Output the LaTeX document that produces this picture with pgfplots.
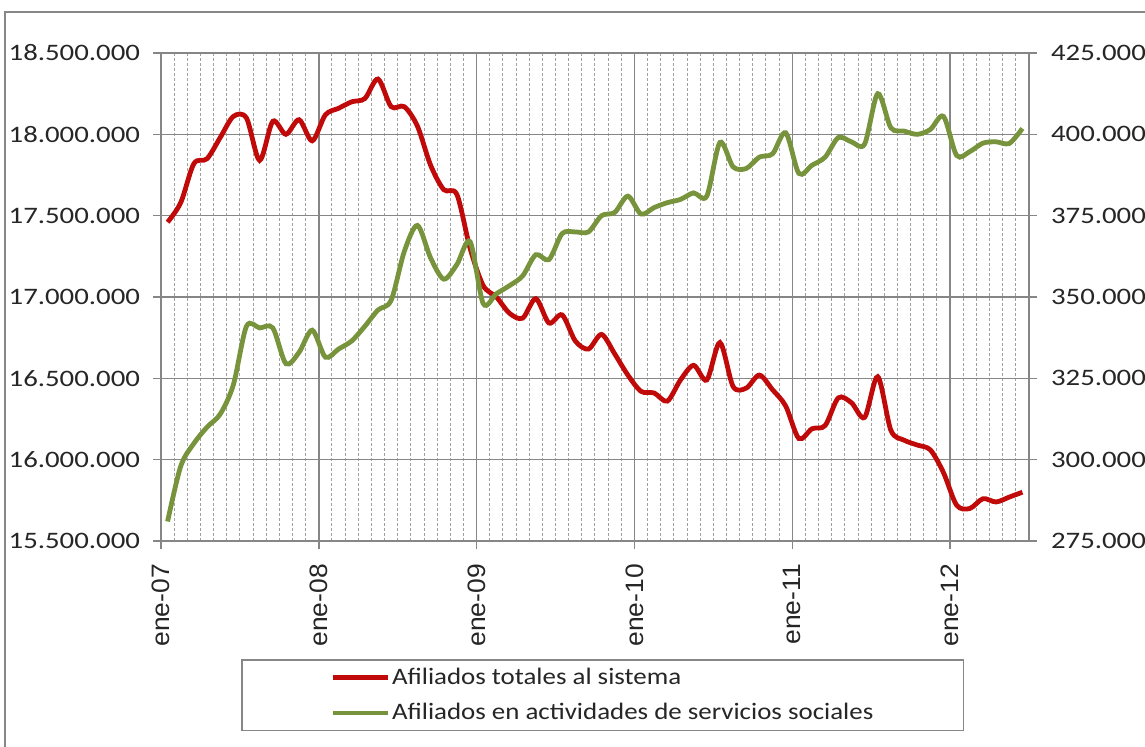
\documentclass[border=0pt]{standalone}
\usepackage{fontspec}
\setmainfont{Carlito}[FakeStretch=1.14]
\newfontfamily\numfont{Carlito}[FakeStretch=1.22]
\newfontfamily\arialf{Liberation Sans}[FakeStretch=1.05]
\usepackage{pgfplots}
\usepackage{pgfplotstable}
\pgfplotsset{compat=1.18}
\definecolor{serred}{RGB}{192,10,10}
\definecolor{sergreen}{RGB}{119,147,60}
\definecolor{gridgray}{RGB}{134,134,134}
\definecolor{mingray}{RGB}{160,160,160}
\definecolor{framegray}{RGB}{135,135,135}

\pgfplotstableread{
x y
0.5 17460000
1.5 17580000
2.5 17820000
3.5 17850000
4.5 17980000
5.5 18110000
6.5 18100000
7.5 17840000
8.5 18080000
9.5 18000000
10.5 18090000
11.5 17960000
12.5 18120000
13.5 18160000
14.5 18200000
15.5 18220000
16.5 18340000
17.5 18170000
18.5 18170000
19.5 18050000
20.5 17810000
21.5 17660000
22.5 17630000
23.5 17300000
24.5 17070000
25.5 17000000
26.5 16900000
27.5 16870000
28.5 16990000
29.5 16840000
30.5 16890000
31.5 16730000
32.5 16680000
33.5 16770000
34.5 16650000
35.5 16520000
36.5 16420000
37.5 16410000
38.5 16360000
39.5 16490000
40.5 16580000
41.5 16490000
42.5 16720000
43.5 16450000
44.5 16440000
45.5 16520000
46.5 16430000
47.5 16330000
48.5 16130000
49.5 16190000
50.5 16210000
51.5 16380000
52.5 16350000
53.5 16260000
54.5 16510000
55.5 16180000
56.5 16120000
57.5 16090000
58.5 16060000
59.5 15920000
60.5 15720000
61.5 15700000
62.5 15760000
63.5 15740000
64.5 15770000
65.5 15800000
}\totales

\pgfplotstableread{
x y
0.5 281000
1.5 298000
2.5 305000
3.5 310000
4.5 314000
5.5 323000
6.5 341000
7.5 340500
8.5 340500
9.5 329500
10.5 333000
11.5 339800
12.5 331500
13.5 334000
14.5 336500
15.5 341000
16.5 346000
17.5 349000
18.5 364000
19.5 372000
20.5 362000
21.5 355500
22.5 360000
23.5 367000
24.5 348000
25.5 351000
26.5 353500
27.5 356500
28.5 363000
29.5 361500
30.5 369500
31.5 370000
32.5 370000
33.5 375000
34.5 376000
35.5 381000
36.5 375500
37.5 377500
38.5 379000
39.5 380000
40.5 382000
41.5 381000
42.5 397500
43.5 390000
44.5 389500
45.5 393000
46.5 394000
47.5 400500
48.5 388000
49.5 390500
50.5 393000
51.5 399000
52.5 397700
53.5 397000
54.5 412500
55.5 402000
56.5 401000
57.5 400000
58.5 401500
59.5 405500
60.5 393500
61.5 394700
62.5 397300
63.5 397700
64.5 397200
65.5 401800
}\sociales

\newcommand{\lblfont}{\fontsize{11.8}{14}\selectfont}
\newcommand{\tkfont}{\numfont\fontsize{11.8}{14}\selectfont}

\begin{document}
\begin{tikzpicture}[x=1pt,y=1pt]
\useasboundingbox (0,0) rectangle (572.5,373);
\draw[framegray, line width=0.8pt] (2.5,-10) rectangle (590,367);
\begin{axis}[
  at={(80.5pt,102.5pt)}, anchor=south west,
  scale only axis, width=434pt, height=244pt,
  xmin=0, xmax=66, ymin=15500000, ymax=18500000,
  scaled y ticks=false, scaled x ticks=false,
  xtick={0,12,...,60},
  xticklabels={ene-07,ene-08,ene-09,ene-10,ene-11,ene-12},
  minor xtick={1,...,65},
  ytick={15500000,16000000,16500000,17000000,17500000,18000000,18500000},
  yticklabels={15.500.000,16.000.000,16.500.000,17.000.000,17.500.000,18.000.000,18.500.000},
  tick pos=left, tick align=outside,
  major tick length=4pt, minor tick length=0pt,
  tick style={gridgray, line width=0.75pt},
  axis line style={gridgray, line width=0.75pt},
  xmajorgrids, ymajorgrids, xminorgrids,
  major grid style={gridgray, line width=0.75pt},
  minor grid style={mingray, line width=0.5pt, dash pattern=on 1.5pt off 1pt},
  yticklabel style={font=\tkfont, text=black!85, anchor=east, xshift=-3pt},
  xticklabel style={font=\arialf\fontsize{12.6}{14}\selectfont, text=black!85, rotate=90, anchor=east, xshift=-4pt},
]
\addplot[serred, line width=2.4pt, smooth, tension=0.5] table[x=x,y=y] {\totales};
\end{axis}
\begin{axis}[
  at={(80.5pt,102.5pt)}, anchor=south west,
  scale only axis, width=434pt, height=244pt,
  xmin=0, xmax=66, ymin=275000, ymax=425000,
  scaled y ticks=false,
  axis x line=none, axis y line*=right,
  ytick={275000,300000,325000,350000,375000,400000,425000},
  yticklabels={275.000,300.000,325.000,350.000,375.000,400.000,425.000},
  tick align=outside, major tick length=4pt,
  tick style={gridgray, line width=0.75pt},
  axis line style={gridgray, line width=0.75pt},
  yticklabel style={font=\tkfont, text=black!85, anchor=west, xshift=3.5pt},
  legend style={at={(0.509,-0.316)}, anchor=center, draw=framegray, line width=0.8pt,
    font=\lblfont, text=black!85, inner xsep=44pt, inner ysep=3pt, row sep=6pt,
    nodes={inner sep=1pt}},
  legend cell align=left,
  legend image code/.code={\draw[#1] (0pt,0pt) -- (27.5pt,0pt);},
]
\addlegendimage{serred, line width=2.4pt}
\addlegendentry{Afiliados totales al sistema}
\addplot[sergreen, line width=2.4pt, smooth, tension=0.5] table[x=x,y=y] {\sociales};
\addlegendentry{Afiliados en actividades de servicios sociales}
\end{axis}
\end{tikzpicture}
\end{document}
